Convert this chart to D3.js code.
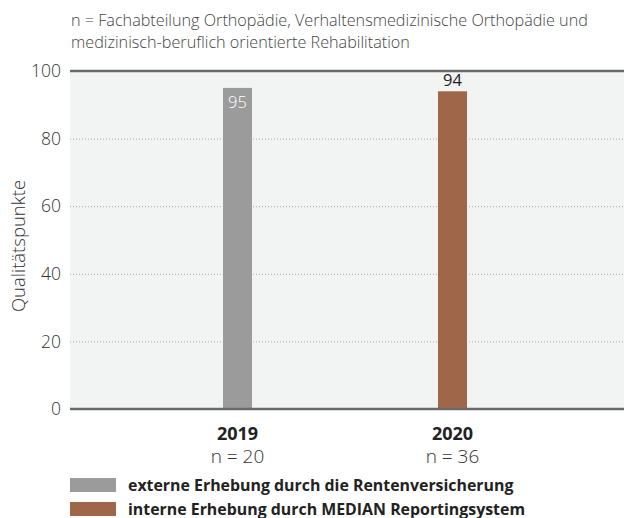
<!DOCTYPE html>
<html>
<head>
<meta charset="utf-8">
<script src="https://cdn.jsdelivr.net/npm/d3@7"></script>
<style>
  body { margin: 0; background: #fff; }
  svg { display: block; font-family: "Open Sans", "Noto Sans", sans-serif; }
</style>
</head>
<body>
<svg id="chart" width="624" height="518"></svg>
<script>
// Quality points per year and survey source
const years = ["2019", "2020"];
const caseCounts = ["n = 20", "n = 36"];
const values = [95, 94];
const sources = ["extern", "intern"];
const legendLabels = [
  "externe Erhebung durch die Rentenversicherung",
  "interne Erhebung durch MEDIAN Reportingsystem"
];
const yTicks = [0, 20, 40, 60, 80, 100];
const titleLines = [
  "n = Fachabteilung Orthopädie, Verhaltensmedizinische Orthopädie und",
  "medizinisch-beruflich orientierte Rehabilitation"
];

const colors = { extern: "#9b9b9b", intern: "#a0664a" };

const svg = d3.select("#chart");
const plot = { left: 70, right: 624, top: 71, bottom: 409 };

const y = d3.scaleLinear().domain([0, 100]).range([plot.bottom, plot.top]);
const x = d3.scaleBand().domain(years).range([130, 560])
  .paddingInner(0.865).paddingOuter(0.4325);

// Title
svg.append("g").selectAll("text").data(titleLines).join("text")
  .attr("x", 71).attr("y", (d, i) => 26 + i * 22)
  .attr("font-size", 16.2).attr("font-weight", 300).attr("fill", "#444")
  .text(d => d);

// Plot background
svg.append("rect")
  .attr("x", plot.left).attr("y", plot.top)
  .attr("width", plot.right - plot.left).attr("height", plot.bottom - plot.top)
  .attr("fill", "#f2f3f3");

// Dotted gridlines
svg.append("g").selectAll("line").data(yTicks.filter(t => t > 0 && t < 100)).join("line")
  .attr("x1", plot.left).attr("x2", plot.right)
  .attr("y1", d => y(d) + 0.5).attr("y2", d => y(d) + 0.5)
  .attr("stroke", "#a8a8a8").attr("stroke-width", 1).attr("stroke-dasharray", "1,2");

// Y axis tick labels
const yAxis = d3.axisLeft(y).tickValues(yTicks).tickSize(0).tickPadding(0);
const yg = svg.append("g").attr("transform", "translate(61,0)").call(yAxis);
yg.select(".domain").remove();
yg.selectAll("text")
  .attr("font-family", "'Open Sans', sans-serif")
  .attr("font-size", 17.5).attr("font-weight", 300).attr("fill", "#333");

// Axis title
svg.append("text")
  .attr("transform", `translate(25,${(plot.top + plot.bottom) / 2 + 6}) rotate(-90)`)
  .attr("text-anchor", "middle")
  .attr("font-size", 18.5).attr("font-weight", 300).attr("fill", "#333")
  .text("Qualitätspunkte");

// Bars
const bars = years.map((yr, i) => ({ year: yr, value: values[i], source: sources[i] }));
svg.append("g").selectAll("rect").data(bars).join("rect")
  .attr("x", d => x(d.year)).attr("width", x.bandwidth())
  .attr("y", d => y(d.value)).attr("height", d => y(0) - y(d.value))
  .attr("fill", d => colors[d.source]);

// Value labels: inside the first bar, above the second
svg.append("g").selectAll("text").data(bars).join("text")
  .attr("x", d => x(d.year) + x.bandwidth() / 2)
  .attr("y", (d, i) => i === 0 ? y(d.value) + 20 : y(d.value) - 5)
  .attr("text-anchor", "middle").attr("font-size", 16.5)
  .attr("font-weight", (d, i) => i === 0 ? 300 : 400)
  .attr("fill", (d, i) => i === 0 ? "#ffffff" : "#222")
  .text(d => d.value);

// Top and baseline rules
svg.append("line")
  .attr("x1", plot.left).attr("x2", plot.right)
  .attr("y1", plot.top).attr("y2", plot.top)
  .attr("stroke", "#6b6b6b").attr("stroke-width", 2.5);
svg.append("line")
  .attr("x1", plot.left).attr("x2", plot.right)
  .attr("y1", plot.bottom).attr("y2", plot.bottom)
  .attr("stroke", "#6b6b6b").attr("stroke-width", 2.5);

// Category labels
const cat = svg.append("g").selectAll("g").data(years).join("g")
  .attr("transform", d => `translate(${x(d) + x.bandwidth() / 2},0)`);
cat.append("text").attr("y", 440).attr("text-anchor", "middle")
  .attr("font-size", 18).attr("font-weight", 700).attr("fill", "#222")
  .text(d => d);
cat.append("text").attr("y", 463).attr("text-anchor", "middle")
  .attr("font-size", 19).attr("font-weight", 300).attr("fill", "#333")
  .text((d, i) => caseCounts[i]);

// Legend
const leg = svg.append("g").selectAll("g").data(sources).join("g")
  .attr("transform", (d, i) => `translate(70,${478 + i * 24})`);
leg.append("rect").attr("width", 46).attr("height", 14)
  .attr("fill", d => colors[d]);
leg.append("text").attr("x", 58).attr("y", 12.5)
  .attr("font-size", 15.9).attr("font-weight", 700).attr("fill", "#222")
  .text((d, i) => legendLabels[i]);
</script>
</body>
</html>
